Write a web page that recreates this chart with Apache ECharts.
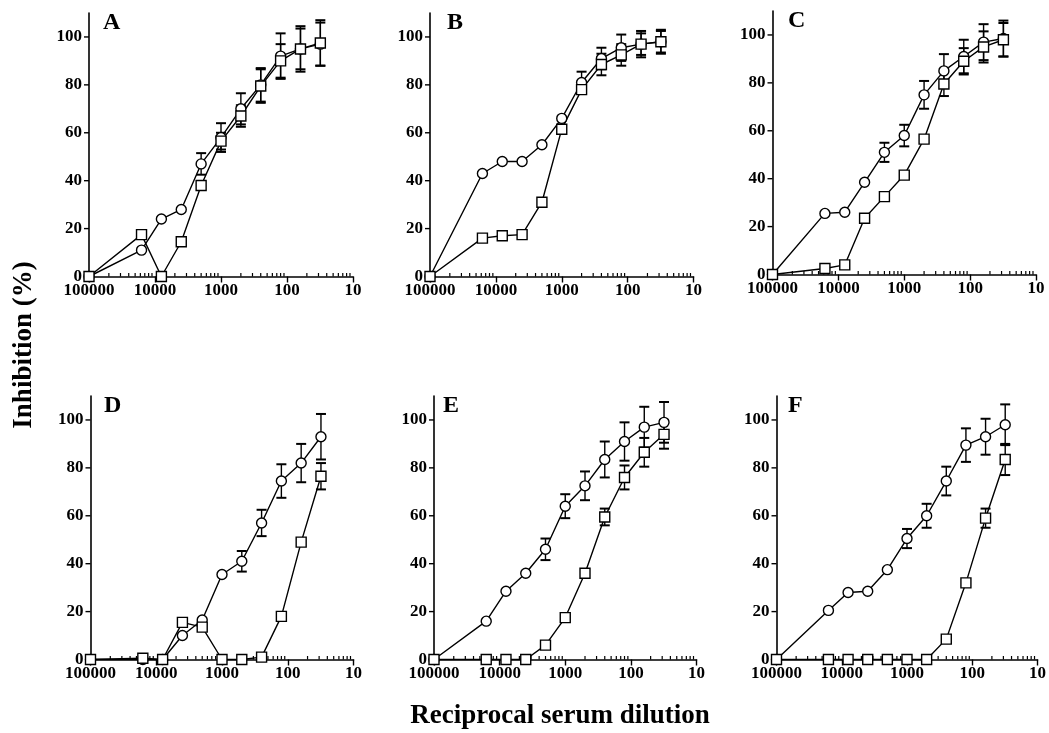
<!DOCTYPE html>
<html>
<head>
<meta charset="utf-8">
<script src="https://cdn.jsdelivr.net/npm/echarts@6/dist/echarts.min.js"></script>
<style>html,body{margin:0;padding:0;background:#fff}#c{width:1049px;height:733px}</style>
</head>
<body>
<div id="c"></div>
<script>
// ---- data ----
const dilutions = [100000, 16000, 8000, 4000, 2000, 1000, 500, 250, 125, 62.5, 31.25];
const panelLetters = ['A', 'B', 'C', 'D', 'E', 'F'];
const xTickLabels = ['100000', '10000', '1000', '100', '10'];
const yTickValues = [0, 20, 40, 60, 80, 100];

const circleA = [0, 11, 24, 28, 47, 58, 70, 80, 92, 95, 97];
const squareA = [0, 17.5, 0, 14.5, 38, 56.5, 67, 79.5, 90, 95, 97.5];
const circleErrA = [0, 0, 0, 0, 4.5, 6, 6.5, 7, 9.5, 8.5, 9];
const squareErrA = [0, 0, 0, 0, 0, 3.5, 4.5, 7, 7, 9.5, 9.5];

const circleB = [0, 43, 48, 48, 55, 66, 81, 91, 95.5, 97, 98];
const squareB = [0, 16, 17, 17.5, 31, 61.5, 78, 88.5, 92.5, 97, 98];
const circleErrB = [0, 0, 0, 0, 0, 0, 4.5, 4.5, 5.5, 5.5, 5];
const squareErrB = [0, 0, 0, 0, 0, 0, 0, 4.5, 4.5, 4.5, 4.5];

const circleC = [0, 25.5, 26, 38.5, 51, 58, 75, 85, 91, 97, 98.5];
const squareC = [0, 2.5, 4, 23.5, 32.5, 41.5, 56.5, 79.5, 89, 95, 98];
const circleErrC = [0, 0, 0, 0, 4, 4.5, 5.8, 7, 7, 7.5, 7.5];
const squareErrC = [0, 0, 0, 0, 0, 0, 0, 5, 5.5, 6.5, 7];

const circleD = [0, 0, 0, 10, 16.5, 35.5, 41, 57, 74.5, 82, 93];
const squareD = [0, 0.5, 0, 15.5, 13.5, 0, 0, 1, 18, 49, 76.5];
const circleErrD = [0, 0, 0, 0, 0, 0, 4.3, 5.5, 7, 8, 9.5];
const squareErrD = [0, 0, 0, 0, 0, 0, 0, 0, 0, 0, 5.5];

const circleE = [0, 16, 28.5, 36, 46, 64, 72.5, 83.5, 91, 97, 99];
const squareE = [0, 0, 0, 0, 6, 17.5, 36, 59.5, 76, 86.5, 94];
const circleErrE = [0, 0, 0, 0, 4.5, 5, 6, 7.5, 8, 8.5, 8.5];
const squareErrE = [0, 0, 0, 0, 0, 0, 0, 3.5, 5, 6, 6];

const circleF = [0, 20.5, 28, 28.5, 37.5, 50.5, 60, 74.5, 89.5, 93, 98];
const squareF = [0, 0, 0, 0, 0, 0, 0, 8.5, 32, 59, 83.5];
const circleErrF = [0, 0, 0, 0, 0, 4, 5, 6, 7, 7.5, 8.5];
const squareErrF = [0, 0, 0, 0, 0, 0, 0, 0, 0, 4, 6.5];

const panels = [
  {c: circleA, s: squareA, ce: circleErrA, se: squareErrA},
  {c: circleB, s: squareB, ce: circleErrB, se: squareErrB},
  {c: circleC, s: squareC, ce: circleErrC, se: squareErrC},
  {c: circleD, s: squareD, ce: circleErrD, se: squareErrD},
  {c: circleE, s: squareE, ce: circleErrE, se: squareErrE},
  {c: circleF, s: squareF, ce: circleErrF, se: squareErrF}
];

// ---- layout ----
const gridBoxes = [
  {left: 89, top: 13, width: 264, height: 263.5},
  {left: 430, top: 13, width: 263.5, height: 263.5},
  {left: 772.5, top: 11, width: 263.5, height: 263.5},
  {left: 90.5, top: 396, width: 263, height: 263.5},
  {left: 434, top: 396, width: 262.5, height: 263.5},
  {left: 776.5, top: 396, width: 262.5, height: 263.5}
];
const letterPos = [[103, 23], [447, 23], [788, 21], [104, 406], [443, 406], [788, 406]];

const FONT = '"Liberation Serif", "Times New Roman", serif';
// minor ticks as drawn in the original (clustered toward the smaller end of each decade)
const minorTicks = [];
for (let d = 10; d < 100000; d *= 10) {
  for (let k = 2; k <= 9; k++) minorTicks.push(d * 10 / k);
}

const grid = [], xAxis = [], yAxis = [], series = [], graphic = [];

function errSeries(i, vals, errs) {
  return {
    type: 'custom', xAxisIndex: i, yAxisIndex: i, z: 2, silent: true,
    data: dilutions.map((x, k) => [x, vals[k], errs[k]]),
    encode: {x: 0, y: 1},
    renderItem: function (params, api) {
      const x = api.value(0), y = api.value(1), e = api.value(2);
      if (!e) return null;
      const t = api.coord([x, y + e]), b = api.coord([x, y - e]);
      const w = 5;
      return {type: 'group', children: [
        {type: 'line', shape: {x1: t[0], y1: t[1], x2: b[0], y2: b[1]}, style: {stroke: '#000', lineWidth: 1.4}},
        {type: 'line', shape: {x1: t[0] - w, y1: t[1], x2: t[0] + w, y2: t[1]}, style: {stroke: '#000', lineWidth: 2}},
        {type: 'line', shape: {x1: b[0] - w, y1: b[1], x2: b[0] + w, y2: b[1]}, style: {stroke: '#000', lineWidth: 2}}
      ]};
    }
  };
}

panels.forEach((p, i) => {
  grid.push(Object.assign({containLabel: false}, gridBoxes[i]));
  xAxis.push({
    type: 'log', gridIndex: i, min: 10, max: 100000, logBase: 10, inverse: true,
    axisLine: {lineStyle: {color: '#000', width: 1.6}},
    axisTick: {show: true, length: 6, lineStyle: {color: '#000', width: 1.4}},
    splitLine: {show: false},
    axisLabel: {
      color: '#000', fontFamily: FONT, fontWeight: 'bold', fontSize: 17, margin: 6,
      formatter: v => xTickLabels.find(s => Number(s) === Math.round(v)) || ''
    }
  });
  yAxis.push({
    type: 'value', gridIndex: i, min: 0, max: 110, interval: 20,
    axisLine: {show: true, lineStyle: {color: '#000', width: 1.6}},
    axisTick: {show: false},
    splitLine: {show: false},
    axisLabel: {
      color: '#000', fontFamily: FONT, fontWeight: 'bold', fontSize: 17, margin: 7,
      showMaxLabel: false,
      formatter: v => (yTickValues.indexOf(v) >= 0 ? String(v) : '')
    }
  });
  // minor ticks on log axis
  series.push({
    type: 'custom', xAxisIndex: i, yAxisIndex: i, z: 1, silent: true,
    data: minorTicks.map(v => [v, 0]), encode: {x: 0, y: 1},
    renderItem: function (params, api) {
      const c = api.coord([api.value(0), 0]);
      return {type: 'line', shape: {x1: c[0], y1: c[1], x2: c[0], y2: c[1] - 3.5}, style: {stroke: '#000', lineWidth: 1.2}};
    }
  });
  // y ticks
  series.push({
    type: 'custom', xAxisIndex: i, yAxisIndex: i, z: 1, silent: true,
    data: yTickValues.map(v => [100000, v]), encode: {x: 0, y: 1},
    renderItem: function (params, api) {
      const c = api.coord([100000, api.value(1)]);
      return {type: 'line', shape: {x1: c[0] - 5, y1: c[1], x2: c[0], y2: c[1]}, style: {stroke: '#000', lineWidth: 1.4}};
    }
  });
  series.push(errSeries(i, p.c, p.ce));
  series.push(errSeries(i, p.s, p.se));
  const common = {
    type: 'line', xAxisIndex: i, yAxisIndex: i, z: 3, symbolSize: 10, showAllSymbol: true,
    lineStyle: {color: '#000', width: 1.4},
    itemStyle: {color: '#fff', borderColor: '#000', borderWidth: 1.4},
    emphasis: {disabled: true}, animation: false, silent: true
  };
  series.push(Object.assign({}, common, {symbol: 'circle', data: dilutions.map((x, k) => [x, p.c[k]])}));
  series.push(Object.assign({}, common, {symbol: 'rect', data: dilutions.map((x, k) => [x, p.s[k]])}));
  graphic.push({
    type: 'text', left: letterPos[i][0], top: letterPos[i][1] - 12,
    style: {text: panelLetters[i], font: 'bold 24px ' + FONT, fill: '#000'}
  });
});

graphic.push({
  type: 'text', x: 24, y: 345, rotation: Math.PI / 2,
  style: {text: 'Inhibition (%)', font: 'bold 27px ' + FONT, fill: '#000', textAlign: 'center', textVerticalAlign: 'middle'}
});
graphic.push({
  type: 'text', x: 560, y: 716,
  style: {text: 'Reciprocal serum dilution', font: 'bold 27px ' + FONT, fill: '#000', textAlign: 'center', textVerticalAlign: 'middle'}
});

const chart = echarts.init(document.getElementById('c'), null, {renderer: 'canvas'});
chart.setOption({
  animation: false,
  backgroundColor: '#fff',
  grid, xAxis, yAxis, series, graphic
});
</script>
</body>
</html>
